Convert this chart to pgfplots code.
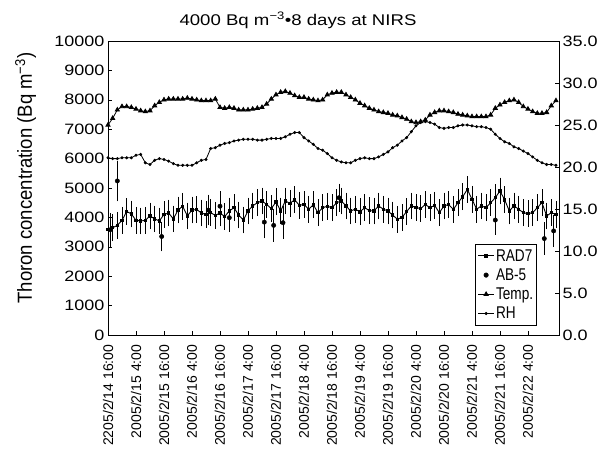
\documentclass[border=0pt]{standalone}
\usepackage{pgfplots}
\usepackage{pgfplotstable}
\pgfplotsset{compat=1.18}
\usepackage{fontspec}
\setmainfont{Liberation Sans}
\newfontfamily\widefont[FakeStretch=1.2]{Liberation Sans}
\newfontfamily\narrowfont[FakeStretch=0.8]{Liberation Sans}

\pgfplotstableread{
h v e
0 3600 380
2 3650 380
4 3730 380
6 3900 380
8 4200 380
10 4120 380
12 3900 380
14 3880 380
16 3900 380
18 4050 380
20 3950 380
22 3880 380
24 4100 380
26 4150 380
28 3950 380
30 4250 380
32 4380 380
34 4050 380
36 4250 380
38 4270 380
40 4150 380
42 4100 380
44 4160 380
46 4070 380
48 4150 380
50 4030 380
52 4220 380
54 4330 380
56 4080 380
58 3910 380
60 4220 380
62 4390 380
64 4500 380
66 4560 380
68 4440 380
70 4300 380
72 4530 380
74 4220 380
76 4560 380
78 4480 380
80 4600 380
82 4410 380
84 4440 380
86 4280 380
88 4430 380
90 4160 380
92 4330 380
94 4380 380
96 4330 380
98 4500 380
100 4560 380
102 4390 380
104 4220 380
106 4280 380
108 4190 380
110 4330 380
112 4230 380
114 4220 380
116 4390 380
118 4280 380
120 4220 380
122 4080 380
124 3940 380
126 4000 380
128 4200 380
130 4390 380
132 4340 380
134 4300 380
136 4440 380
138 4330 380
140 4410 380
142 4160 380
144 4390 380
146 4440 380
148 4270 380
150 4500 380
152 4700 380
154 4950 380
156 4620 380
158 4280 380
160 4390 380
162 4330 380
164 4500 380
166 4670 380
168 4900 380
170 4600 380
172 4220 380
174 4390 380
176 4280 380
178 4160 380
180 4130 380
182 4160 380
184 4330 380
186 4500 380
188 4050 380
190 4160 380
192 4100 380
}\radseven

\pgfplotstableread{
h v e
1 3580 500
4 5240 620
23 3350 430
43 4250 450
48 4380 440
52 3990 400
67 3840 480
71 3730 480
75 3820 480
99 4670 400
166 3910 430
187 3280 480
191 3540 480
}\abfive

\pgfplotstableread{
h t rh
0 25.0 21.1
2 25.8 21.0
4 26.8 21.0
6 27.2 21.1
8 27.2 21.1
10 27.1 21.1
12 26.9 21.4
14 26.7 21.5
16 26.6 20.5
18 26.7 20.3
20 27.3 20.8
22 27.7 21.0
24 28.0 20.9
26 28.1 20.7
28 28.1 20.4
30 28.1 20.2
32 28.1 20.2
34 28.2 20.2
36 28.1 20.2
38 28.0 20.5
40 27.9 20.8
42 27.9 20.9
44 27.9 22.2
46 28.1 22.3
48 27.1 22.6
50 27.0 22.8
52 27.1 22.9
54 27.0 23.1
56 26.8 23.2
58 26.8 23.3
60 26.8 23.3
62 26.9 23.3
64 27.0 23.2
66 27.1 23.2
68 27.5 23.3
70 28.1 23.4
72 28.6 23.4
74 28.9 23.4
76 29.0 23.6
78 28.8 23.9
80 28.5 24.1
82 28.3 24.1
84 28.3 23.5
86 28.1 23.1
88 28.0 22.7
90 27.9 22.2
92 28.0 22.0
94 28.6 21.6
96 28.8 21.1
98 28.9 20.8
100 28.9 20.6
102 28.6 20.5
104 28.3 20.5
106 28.0 20.8
108 27.6 21.0
110 27.3 21.1
112 27.0 21.0
114 26.8 21.0
116 26.6 21.2
118 26.5 21.5
120 26.4 21.8
122 26.2 22.3
124 26.1 22.6
126 25.9 23.1
128 25.7 23.5
130 25.4 24.2
132 25.3 24.9
134 25.4 25.3
136 25.6 25.4
138 26.2 25.3
140 26.5 25.1
142 26.7 24.7
144 26.7 24.6
146 26.6 24.7
148 26.5 24.7
150 26.3 24.9
152 26.2 25.0
154 26.1 25.0
156 26.0 24.9
158 26.0 24.8
160 26.0 24.8
162 26.0 24.7
164 26.2 24.5
166 27.0 23.9
168 27.4 23.4
170 27.7 23.0
172 27.9 22.8
174 28.0 22.4
176 27.7 22.2
178 27.2 21.9
180 26.9 21.6
182 26.6 21.2
184 26.4 20.8
186 26.4 20.5
188 26.5 20.3
190 27.3 20.3
192 27.9 20.2
}\climate

\begin{document}
\begin{tikzpicture}
\useasboundingbox (-108pt,-116pt) rectangle (493pt,335pt);
\begin{axis}[
  name=ax,
  at={(0,0)}, anchor=south west,
  scale only axis, width=451pt, height=294pt,
  xmin=0, xmax=193.3, ymin=0, ymax=10000,
  xtick={0,12,...,180},
  xticklabels={2205/2/14 16:00, 2005/2/15 4:00, 2005/2/15 16:00, 2005/2/16 4:00, 2005/2/16 16:00, 2005/2/17 4:00, 2005/2/17 16:00, 2005/2/18 4:00, 2005/2/18 16:00, 2005/2/19 4:00, 2005/2/19 16:00, 2005/2/20 4:00, 2005/2/20 16:00, 2005/2/21 4:00, 2005/2/21 16:00, 2005/2/22 4:00},
  ytick={0,1000,...,10000},
  xtick pos=left, ytick pos=left,
  tick align=inside, major tick length=4pt,
  axis line style={line width=0.7pt},
  every tick/.style={black, line width=0.6pt},
  xticklabel style={rotate=90, anchor=east, inner xsep=9.5pt, font=\fontsize{14}{14}\selectfont},
  yticklabel style={font=\widefont\fontsize{15}{15}\selectfont},
  /pgf/number format/assume math mode=true,
  /pgf/number format/set thousands separator={},
  scaled y ticks=false,
]
\addplot[black, line width=0.9pt, mark=square*, mark size=1.2pt,
  error bars/.cd, y dir=both, y explicit,
  error bar style={line width=0.6pt, black},
  error mark options={mark size=2.2pt, line width=0.6pt, black}]
  table[x=h, y=v, y error=e] {\radseven};
\addplot[black, only marks, mark=*, mark size=2.2pt,
  error bars/.cd, y dir=both, y explicit,
  error bar style={line width=0.6pt, black},
  error mark options={mark size=2.2pt, line width=0.6pt, black}]
  table[x=h, y=v, y error=e] {\abfive};
\end{axis}
\begin{axis}[
  at={(0,0)}, anchor=south west,
  scale only axis, width=451pt, height=294pt,
  xmin=0, xmax=193.3, ymin=0, ymax=35,
  hide x axis, axis y line*=right,
  ytick={0,5,...,35},
  tick align=inside, major tick length=4pt,
  axis line style={line width=0.7pt},
  every tick/.style={black, line width=0.6pt},
  /pgf/number format/assume math mode=true,
  yticklabel style={font=\widefont\fontsize{15}{15}\selectfont,
    /pgf/number format/.cd, fixed, fixed zerofill, precision=1},
  legend cell align=left,
  legend image code/.code={\draw[mark repeat=2, mark phase=2, #1] plot coordinates {(0pt,0pt) (8pt,0pt) (16pt,0pt)};},
  legend style={at={(rel axis cs:0.951,0.031)}, anchor=south east,
    draw=black, line width=0.6pt, inner xsep=2pt, inner ysep=2.5pt,
    font=\narrowfont\fontsize{17}{17}\selectfont,
    nodes={inner xsep=1.5pt, inner ysep=3pt}},
]
\addlegendimage{black, line width=0.9pt, mark=square*, mark size=1.2pt}
\addlegendentry{RAD7}
\addlegendimage{black, only marks, mark=*, mark size=2.2pt}
\addlegendentry{AB-5}
\addplot[black, line width=0.8pt, mark=triangle*, mark size=2.4pt] table[x=h, y=t] {\climate};
\addlegendentry{Temp.}
\addplot[black, line width=0.8pt, mark=*, mark size=1.1pt] table[x=h, y=rh] {\climate};
\addlegendentry{RH}
\end{axis}
\node[font=\widefont\fontsize{15.5}{15.5}\selectfont, anchor=base] at (190pt,310pt) {4000 Bq m\textsuperscript{−3}•8 days at NIRS};
\node[rotate=90, anchor=base, font=\fontsize{18.5}{18.5}\selectfont] at (-76pt,157pt) {\scalebox{1}[1.1]{Thoron concentration (Bq m\textsuperscript{−3})}};
\end{tikzpicture}
\end{document}
